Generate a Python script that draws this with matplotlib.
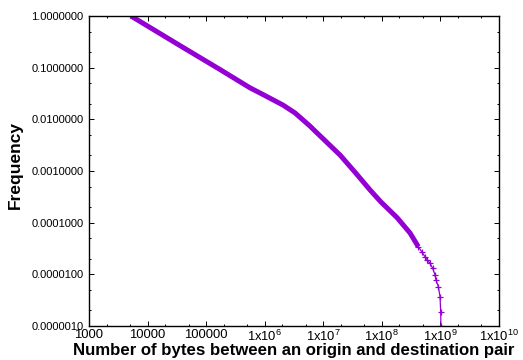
import numpy as np
import matplotlib
matplotlib.use("Agg")
import matplotlib.pyplot as plt
from matplotlib.ticker import FixedLocator, LogLocator, NullFormatter

plt.rcParams["font.family"] = ["Liberation Sans", "DejaVu Sans"]
plt.rcParams["mathtext.fontset"] = "custom"
plt.rcParams["mathtext.rm"] = "Liberation Sans"

# complementary distribution
bytes_dense = [5200, 41900, 172600, 561000, 899000, 2.05e6, 3.29e6,
               5.93e6, 7.23e6, 1.93e7, 3.62e7, 6.28e7, 9.66e7, 1.82e8,
               3.03e8, 4.19e8]
freq_dense = [1.0, 0.240, 0.092, 0.0407, 0.0309, 0.0189, 0.0133,
              0.0074, 0.00594, 0.00204, 9.0e-4, 4.3e-4, 2.51e-4, 1.25e-4,
              6.3e-5, 3.43e-5]

bytes_tail = [4.19e8, 4.79e8, 5.45e8, 5.97e8, 6.64e8, 7.38e8, 8.08e8,
              8.40e8, 9.20e8, 9.84e8, 1.01e9, 1.02e9]
freq_tail = [3.43e-5, 2.74e-5, 2.19e-5, 1.89e-5, 1.63e-5, 1.31e-5, 9.7e-6,
             7.8e-6, 5.8e-6, 3.7e-6, 1.9e-6, 1.0e-6]

x_ticks = [1e3, 1e4, 1e5, 1e6, 1e7, 1e8, 1e9, 1e10]
x_labels = ["1000", "10000", "100000", r"1x10$^{6}$", r"1x10$^{7}$",
            r"1x10$^{8}$", r"1x10$^{9}$", r"1x10$^{10}$"]
y_ticks = [1.0, 0.1, 0.01, 0.001, 1e-4, 1e-5, 1e-6]
y_labels = ["1.0000000", "0.1000000", "0.0100000", "0.0010000",
            "0.0001000", "0.0000100", "0.0000010"]

color = "#9400d3"

fig = plt.figure(figsize=(5.23, 3.6), dpi=100)
ax = fig.add_axes([89 / 523, 34 / 360, 410 / 523, 310 / 360])

ax.plot(bytes_dense, freq_dense, color=color, lw=3.6, solid_capstyle="butt",
        solid_joinstyle="round")
ax.plot(bytes_tail, freq_tail, color=color, lw=0.9, marker="+", ms=5, mew=0.9)

ax.set_xscale("log")
ax.set_yscale("log")
ax.set_xlim(1e3, 1e10)
ax.set_ylim(1e-6, 1.0)

ax.xaxis.set_major_locator(FixedLocator(x_ticks))
ax.set_xticklabels(x_labels, fontsize=9.4)
ax.yaxis.set_major_locator(FixedLocator(y_ticks))
ax.set_yticklabels(y_labels, fontsize=8)
for axis in (ax.xaxis, ax.yaxis):
    axis.set_minor_locator(LogLocator(base=10, subs=(2.0, 5.0)))
    axis.set_minor_formatter(NullFormatter())

ax.tick_params(which="both", direction="in", top=True, right=True, width=0.7)
ax.tick_params(which="major", length=3.3)
ax.tick_params(which="minor", length=1.7)
ax.tick_params(axis="x", pad=2)
ax.tick_params(axis="y", pad=4)
for s in ax.spines.values():
    s.set_linewidth(1.0)

fig.text(293.7 / 523, 1 - 354.5 / 360, "Number of bytes between an origin and destination pair",
         ha="center", va="baseline", fontsize=12.1, fontweight="bold")
fig.text(15 / 523, 1 - 165 / 360, "Frequency", ha="center", va="center",
         rotation=90, fontsize=12.5, fontweight="bold")

fig.savefig("out.png", dpi=100)
